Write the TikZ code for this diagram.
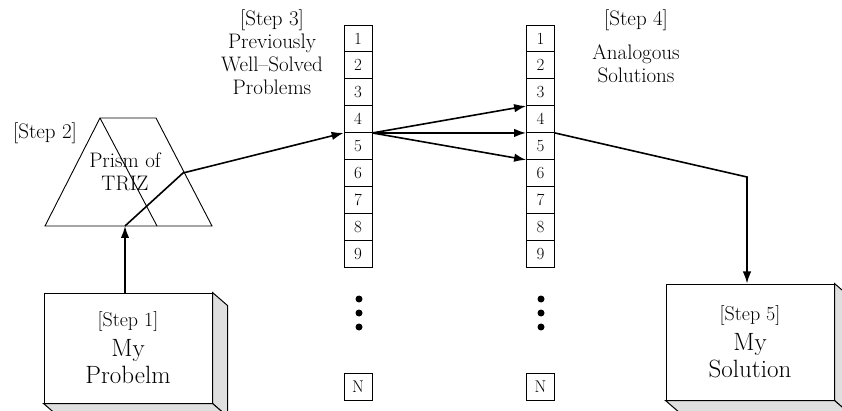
\documentclass[tikz,border=0pt]{standalone}
\usepackage{amsmath}
\usetikzlibrary{calc,arrows.meta}

\begin{document}
\begin{tikzpicture}[x=1pt,y=-1pt,
	cell/.style={draw,line width=0.8pt,minimum width=28pt,minimum height=26.9pt,
		inner sep=0pt,font=\fontsize{17}{17}\selectfont},
	stepbox/.style={draw,line width=1pt,fill=white,minimum width=168pt,
		align=center,inner sep=0pt,font=\fontsize{25}{27}\selectfont},
	side/.style={draw,line width=1pt,fill=gray!25},
	caption/.style={align=center,font=\fontsize{21}{23}\selectfont},
	flow/.style={line width=1.6pt,-{Latex[length=12pt,width=8.5pt]}}]

	\useasboundingbox (0,0) rectangle (842,411);

% coordinate %{{{2

	\coordinate (tip) at (125,226);
	\coordinate (bend) at (183,173);
	\coordinate (drop) at (747,177);

% prism %{{{2

	\draw[line width=0.9pt] (45,226) -- (100,118) -- (156,118) -- (212,226) -- cycle;
	\draw[line width=0.9pt] (100,118) -- (157,226);
	\node[caption] (prism) at (125,172) {Prism of\\TRIZ};
	\node[caption] (step2) at (45,133) {[Step 2]};

% previously solved problems %{{{2

	\node[cell] (p1) at (358,38.4) {1};
	\node[cell] (p2) at (358,65.3) {2};
	\node[cell] (p3) at (358,92.2) {3};
	\node[cell] (p4) at (358,119.1) {4};
	\node[cell] (p5) at (358,146.0) {5};
	\node[cell] (p6) at (358,172.9) {6};
	\node[cell] (p7) at (358,199.8) {7};
	\node[cell] (p8) at (358,226.7) {8};
	\node[cell] (p9) at (358,253.6) {9};
	\node[cell] (pN) at (358,386.5) {N};

	\fill (359,299) circle (3.5pt);
	\fill (359,313) circle (3.5pt);
	\fill (359,327) circle (3.5pt);

	\node[caption] (step3) at (272,52.5) {[Step 3]\\Previously\\Well--Solved\\Problems};

% analogous solutions %{{{2

	\node[cell] (a1) at (540.5,38.4) {1};
	\node[cell] (a2) at (540.5,65.3) {2};
	\node[cell] (a3) at (540.5,92.2) {3};
	\node[cell] (a4) at (540.5,119.1) {4};
	\node[cell] (a5) at (540.5,146.0) {5};
	\node[cell] (a6) at (540.5,172.9) {6};
	\node[cell] (a7) at (540.5,199.8) {7};
	\node[cell] (a8) at (540.5,226.7) {8};
	\node[cell] (a9) at (540.5,253.6) {9};
	\node[cell] (aN) at (540.5,386.5) {N};

	\fill (541,299) circle (3.5pt);
	\fill (541,313) circle (3.5pt);
	\fill (541,327) circle (3.5pt);

	\node[caption] (step4) at (636,20) {[Step 4]};
	\node[caption] (analog) at (636,64) {Analogous\\Solutions};

% step boxes %{{{2

	\node[stepbox,minimum height=110pt] (s1) at (128,348)
		{{\fontsize{20}{21}\selectfont [Step 1]}\\[3pt]My\\Probelm};
	\node[stepbox,minimum height=116pt] (s5) at (750,342)
		{{\fontsize{20}{21}\selectfont [Step 5]}\\[3pt]My\\Solution};

% box sides %{{{2

	\draw[side] (s1.north east) -- ++(15,13) -- ($(s1.south east)+(15,13)$)
		-- (s1.south east) -- cycle;
	\draw[side] (s1.south west) -- (s1.south east) -- ($(s1.south east)+(15,13)$)
		-- ($(s1.south west)+(15,13)$) -- cycle;
	\draw[side] (s5.north east) -- ++(15,13) -- ($(s5.south east)+(15,13)$)
		-- (s5.south east) -- cycle;
	\draw[side] (s5.south west) -- (s5.south east) -- ($(s5.south east)+(15,13)$)
		-- ($(s5.south west)+(15,13)$) -- cycle;

% arrows %{{{2

	\draw[flow] (s1.north -| tip) -- (tip);
	\draw[flow] (tip) -- (bend) -- (p4.south west);
	\draw[flow] (p4.south east) -- (a3.south west);
	\draw[flow] (p4.south east) -- (a4.south west);
	\draw[flow] (p4.south east) -- (a5.south west);
	\draw[flow] (a4.south east) -- (drop) -- (drop |- s5.north);

\end{tikzpicture}
\end{document}
